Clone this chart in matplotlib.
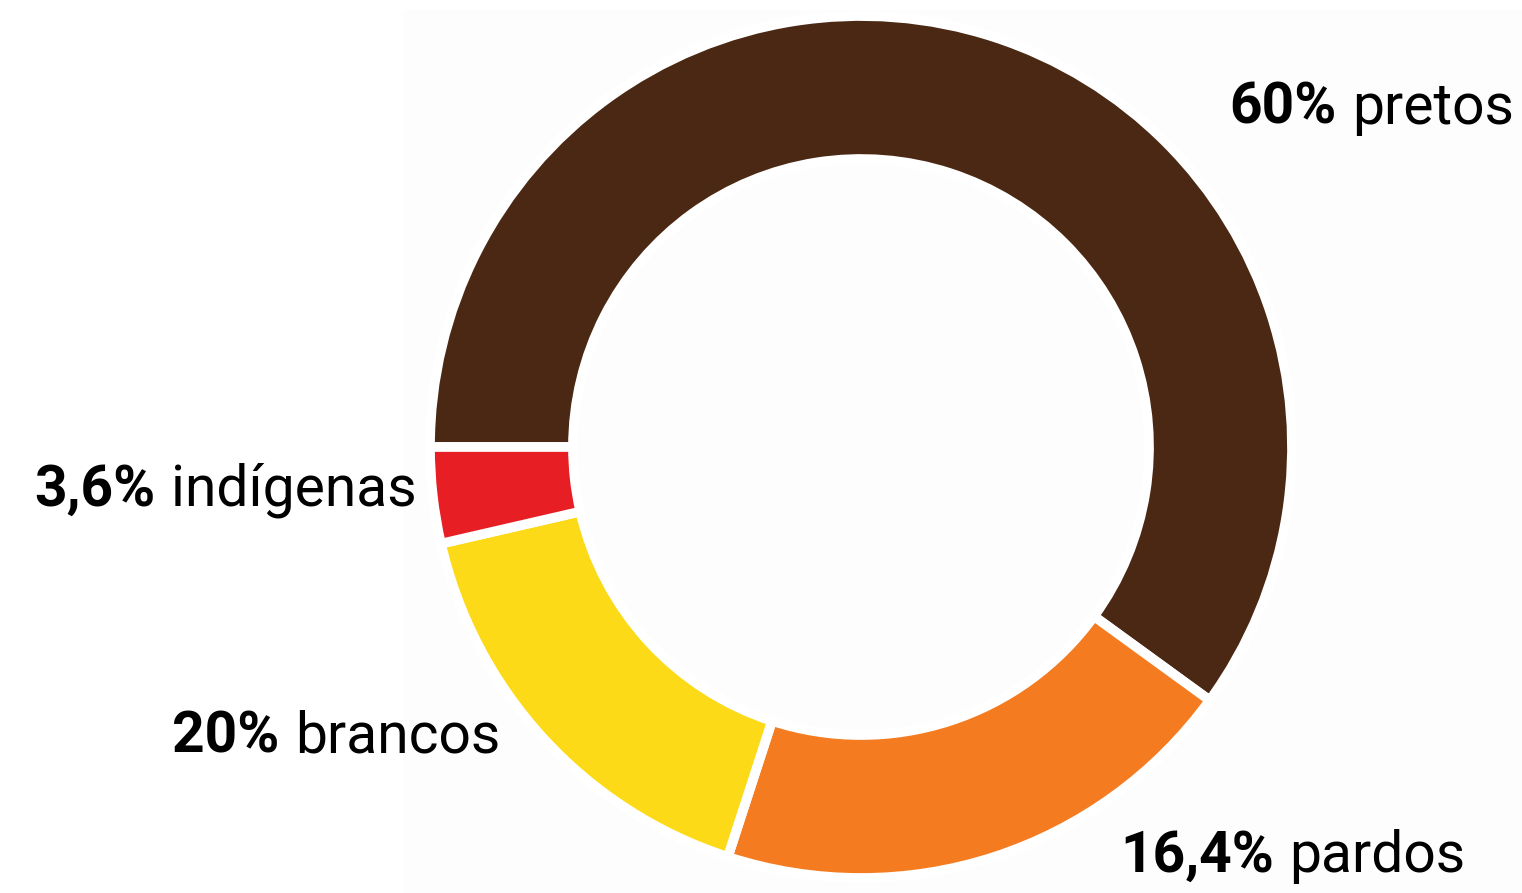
import matplotlib.pyplot as plt
from matplotlib.patches import Rectangle

# --- data (slice sizes as drawn, label texts as printed) ---
groups = ['pretos', 'pardos', 'brancos', 'indígenas']
shares = [60, 20, 16.4, 3.6]
label_pct = ['60%', '16,4%', '20%', '3,6%']
label_name = ['pretos', 'pardos', 'brancos', 'indígenas']
colors = ['#4a2813', '#f47b20', '#fcda17', '#e81e25']

FONT = ['Roboto', 'DejaVu Sans']
FS = 41

W, H = 1522, 893
fig = plt.figure(figsize=(W / 100, H / 100), dpi=100)
ax = fig.add_axes([0, 0, 1, 1])

# faint panel behind the ring
ax.add_patch(Rectangle((403, 0), W - 403, H - 10, facecolor='#fdfdfd',
                       edgecolor='none', zorder=0))

R = 431
ax.pie(shares, colors=colors, startangle=180, counterclock=False,
       center=(861, H - 447), radius=R, frame=True,
       wedgeprops=dict(width=143, edgecolor='white', linewidth=7))
ax.set_xlim(0, W)
ax.set_ylim(0, H)
ax.set_aspect('equal')
ax.axis('off')

# label anchors (left edge, vertical centre), in pixels from top
label_pos = {
    'pretos': (1229, 108),
    'pardos': (1120, 856),
    'brancos': (172, 737),
    'indígenas': (34, 490),
}

for pct, name in zip(label_pct, label_name):
    x, y = label_pos[name]
    t = ax.text(x, H - y, pct, fontsize=FS, fontweight='bold', family=FONT,
                ha='left', va='center', color='black')
    ax.annotate(name, xy=(1, 0), xycoords=t, xytext=(11, 0),
                textcoords='offset points', fontsize=FS, fontweight='normal',
                family=FONT, ha='left', va='bottom', color='black')

fig.savefig('out.png', dpi=100, facecolor='white')
